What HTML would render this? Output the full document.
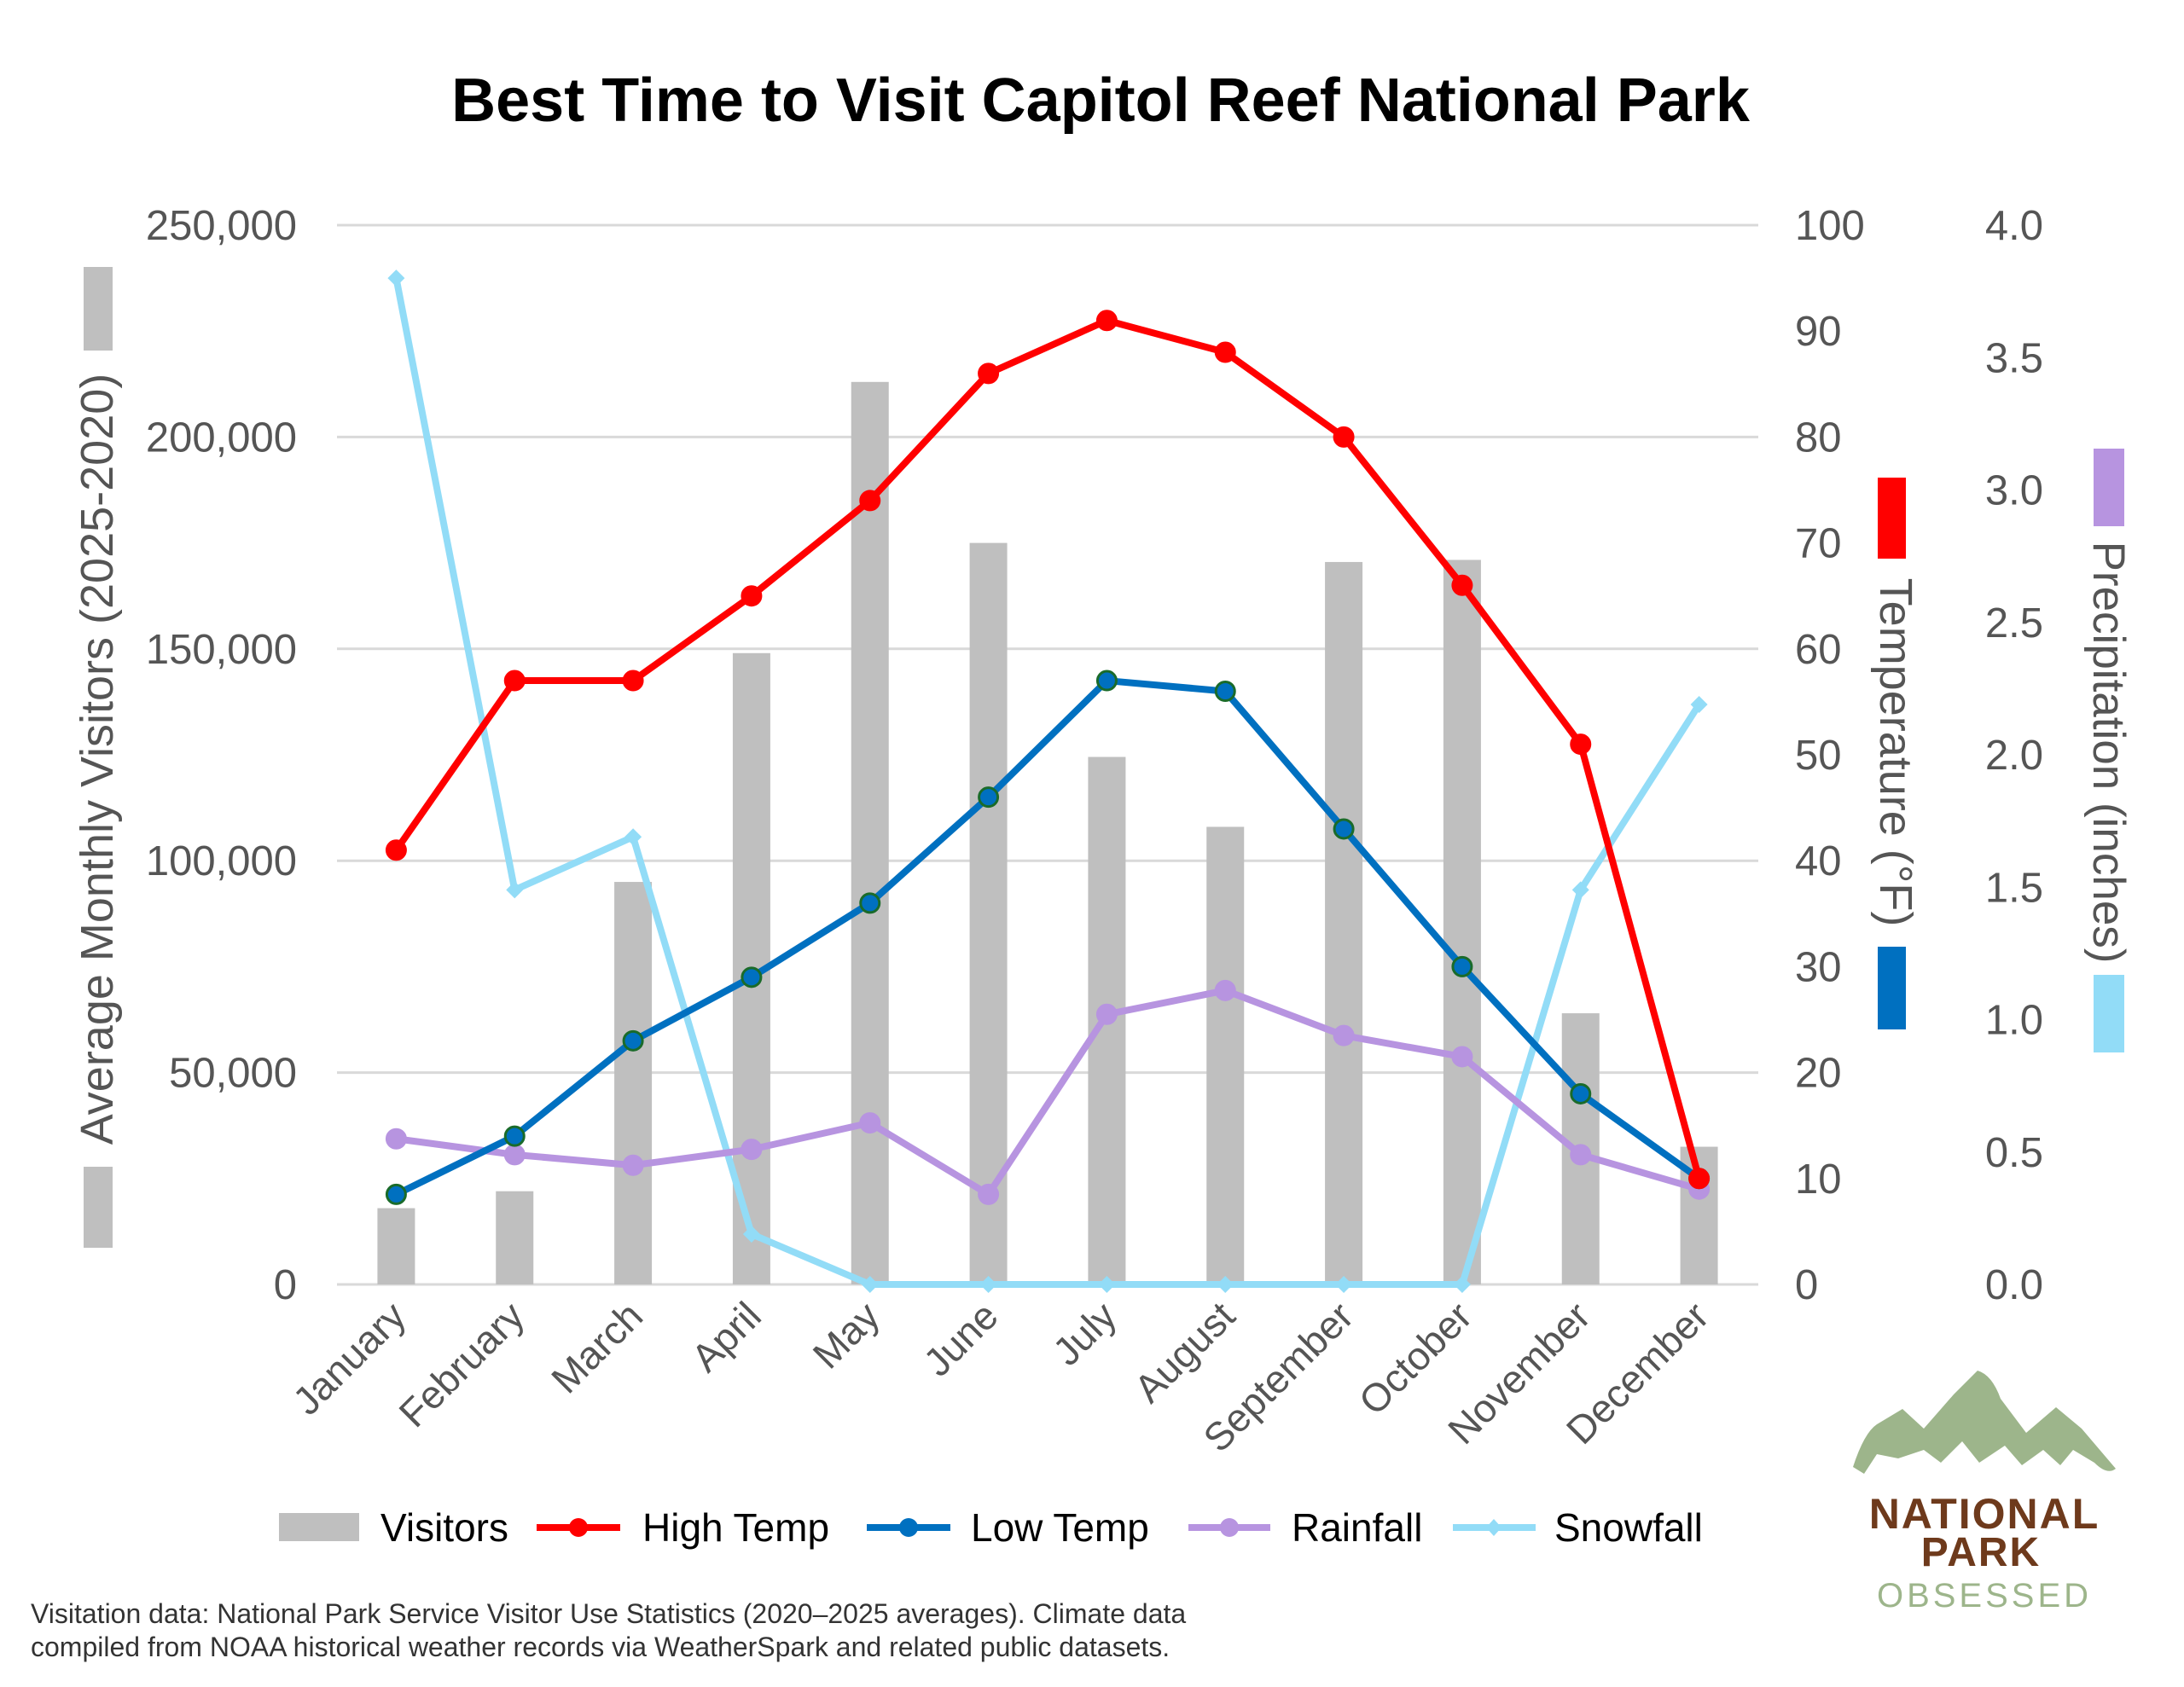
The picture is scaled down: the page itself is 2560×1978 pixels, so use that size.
<!DOCTYPE html>
<html><head><meta charset="utf-8"><style>
html,body{margin:0;padding:0;background:#fff;}
svg{display:block;font-family:"Liberation Sans",sans-serif;}
</style></head><body>
<svg id="chart" width="2560" height="1978" viewBox="0 0 2560 1978" xmlns="http://www.w3.org/2000/svg">
<rect width="2560" height="1978" fill="#fff"/>
<text x="1290" y="142" text-anchor="middle" font-size="72" font-weight="bold" fill="#000">Best Time to Visit Capitol Reef National Park</text>
<g id="grid"></g>
<g id="bars"></g>
<g id="lines"></g>
<g id="axes"></g>
<g>
<rect x="98" y="313" width="34" height="98" fill="#bfbfbf"/>
<rect x="98" y="1368" width="34" height="95" fill="#bfbfbf"/>
<text transform="translate(132,890) rotate(-90)" text-anchor="middle" font-size="54" fill="#555">Average Monthly Visitors (2025-2020)</text>
</g>
<g>
<rect x="2201" y="560" width="33" height="95" fill="#ff0000"/>
<rect x="2201" y="1110" width="33" height="97" fill="#0070c0"/>
<text transform="translate(2204,882) rotate(90)" text-anchor="middle" font-size="54" fill="#555">Temperature (°F)</text>
</g>
<g>
<rect x="2454" y="526" width="36" height="91" fill="#b794e0"/>
<rect x="2454" y="1143" width="36" height="91" fill="#92dcf7"/>
<text transform="translate(2454,882) rotate(90)" text-anchor="middle" font-size="53" fill="#555">Precipitation (inches)</text>
</g>
<g font-size="46" fill="#000">
<g><rect x="327" y="1774" width="94" height="33" fill="#bfbfbf"/><text x="446" y="1807">Visitors</text></g>
<g><line x1="629" y1="1791" x2="727" y2="1791" stroke="#ff0000" stroke-width="8"/><circle cx="678" cy="1791" r="11" fill="#ff0000"/><text x="753" y="1807">High Temp</text></g>
<g><line x1="1016" y1="1791" x2="1114" y2="1791" stroke="#0070c0" stroke-width="8"/><circle cx="1065" cy="1791" r="11" fill="#0070c0"/><text x="1138" y="1807">Low Temp</text></g>
<g><line x1="1393" y1="1791" x2="1489" y2="1791" stroke="#b794e0" stroke-width="8"/><circle cx="1441" cy="1791" r="11" fill="#b794e0"/><text x="1514" y="1807">Rainfall</text></g>
<g><line x1="1703" y1="1791" x2="1800" y2="1791" stroke="#92dcf7" stroke-width="8"/><path d="M1751 1781 L1760 1791 L1751 1801 L1742 1791Z" fill="#92dcf7"/><text x="1822" y="1807">Snowfall</text></g>
</g>
<g font-size="32" fill="#333">
<text x="36" y="1903">Visitation data: National Park Service Visitor Use Statistics (2020–2025 averages). Climate data</text>
<text x="36" y="1942">compiled from NOAA historical weather records via WeatherSpark and related public datasets.</text>
</g>
<g>
<path d="M2172 1720 Q2185 1680 2200 1670 L2230 1652 L2255 1675 L2290 1635 L2318 1607 Q2335 1612 2345 1640 L2375 1680 L2410 1650 L2440 1675 L2480 1722 Q2470 1730 2455 1715 L2430 1700 L2415 1718 L2395 1700 L2370 1718 L2350 1695 L2320 1715 L2300 1690 L2275 1715 L2255 1700 L2225 1710 L2200 1705 L2185 1728 Z" fill="#9db58b"/>
<text x="2326" y="1792" text-anchor="middle" font-size="50" font-weight="bold" fill="#6e3a1c" letter-spacing="2">NATIONAL</text>
<text x="2322" y="1836" text-anchor="middle" font-size="48" font-weight="bold" fill="#6e3a1c" letter-spacing="2">PARK</text>
<text x="2326" y="1884" text-anchor="middle" font-size="40" fill="#9db58b" letter-spacing="4">OBSESSED</text>
</g>
</svg>
<script>
const months = ["January","February","March","April","May","June","July","August","September","October","November","December"];
const visitors = [18000,22000,95000,149000,213000,175000,124500,108000,170500,171000,64000,32500];
const highTemp = [41,57,57,65,74,86,91,88,80,66,51,10];
const lowTemp = [8.5,14,23,29,36,46,57,56,43,30,18,10];
const rainfall = [0.55,0.49,0.45,0.51,0.61,0.34,1.02,1.11,0.94,0.86,0.49,0.36];
const snowfall = [3.8,1.49,1.69,0.19,0,0,0,0,0,0,1.49,2.19];
const visitorTicks = ["0","50,000","100,000","150,000","200,000","250,000"];
const tempTicks = ["0","10","20","30","40","50","60","70","80","90","100"];
const precipTicks = ["0.0","0.5","1.0","1.5","2.0","2.5","3.0","3.5","4.0"];

const NS="http://www.w3.org/2000/svg";
const L=395,R=2061,T=264,B=1506;
const band=(R-L)/months.length;
const x=i=>L+band*(i+0.5);
const yV=v=>B-(v/250000)*(B-T);
const yT=v=>B-(v/100)*(B-T);
const yP=v=>B-(v/4)*(B-T);
function mk(tag,attrs,parent){const e=document.createElementNS(NS,tag);for(const k in attrs)e.setAttribute(k,attrs[k]);parent.appendChild(e);return e;}
const grid=document.getElementById('grid'),bars=document.getElementById('bars'),lines=document.getElementById('lines'),axes=document.getElementById('axes');
visitorTicks.forEach((t,i)=>{const v=i*50000;
 const g=mk('line',{x1:L,x2:R,y1:yV(v),y2:yV(v),stroke:'#d9d9d9','stroke-width':3},grid);
 
 
 const tx=mk('text',{x:348,y:yV(v)+17,'text-anchor':'end','font-size':49,fill:'#555'},axes);tx.textContent=t;
 
 
});
tempTicks.forEach((t,i)=>{const tx=mk('text',{x:2104,y:yT(i*10)+17,'font-size':49,fill:'#555'},axes);tx.textContent=t;
 
 
});
precipTicks.forEach((t,i)=>{const tx=mk('text',{x:2395,y:yP(i*0.5)+17,'text-anchor':'end','font-size':49,fill:'#555'},axes);tx.textContent=t;
 
 
});
months.forEach((m,i)=>{const tx=mk('text',{transform:`translate(${x(i)+14},${B+40}) rotate(-45)`,'text-anchor':'end','font-size':46,fill:'#555'},axes);tx.textContent=m;
 
 
});
visitors.forEach((v,i)=>{const r=mk('rect',{x:x(i)-22,y:yV(v),width:44,height:B-yV(v),fill:'#bfbfbf'},bars);
 
 
});
function series(data,yf,color,name,marker,stroke){
 const pts=data.map((v,i)=>x(i)+','+yf(v)).join(' ');
 const p=mk('polyline',{points:pts,fill:'none',stroke:color,'stroke-width':8,'stroke-linejoin':'round'},lines);
 
 
 data.forEach((v,i)=>{let m;
  if(marker==='diamond'){const cx=x(i),cy=yf(v);m=mk('path',{d:`M${cx} ${cy-10}L${cx+10} ${cy}L${cx} ${cy+10}L${cx-10} ${cy}Z`,fill:color},lines);}
  else m=mk('circle',{cx:x(i),cy:yf(v),r:11,fill:color,stroke:stroke||color,'stroke-width':3},lines);
  
  
 });
}
series(snowfall,yP,'#92dcf7','snowfall','diamond');
series(rainfall,yP,'#b794e0','rainfall','circle');
series(lowTemp,yT,'#0070c0','low-temp','circle','#1a6b2a');
series(highTemp,yT,'#ff0000','high-temp','circle');
</script>
</body></html>
